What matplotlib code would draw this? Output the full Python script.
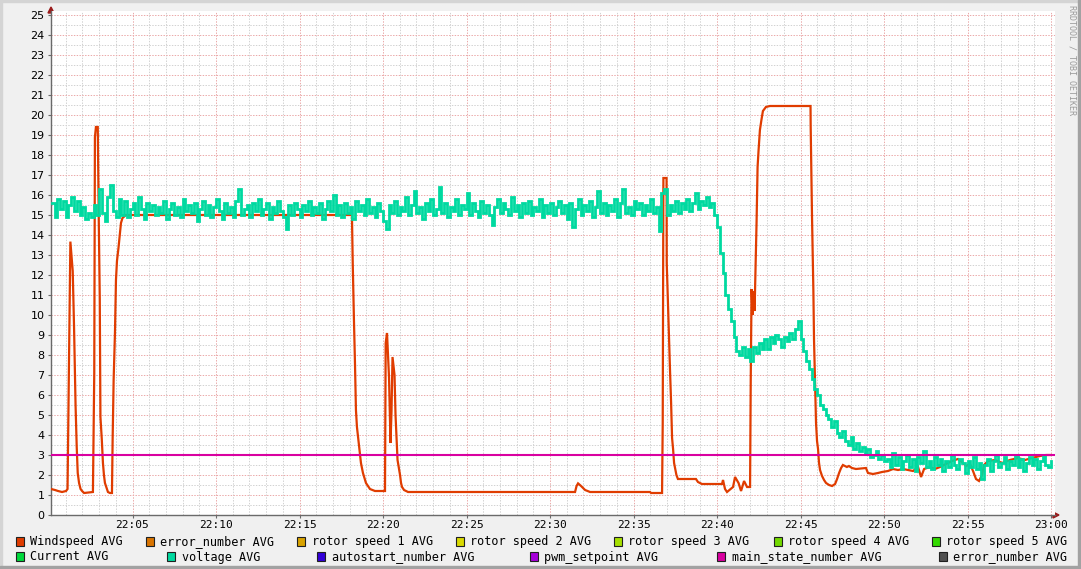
import matplotlib
matplotlib.use("Agg")
import matplotlib.pyplot as plt
from matplotlib.ticker import MultipleLocator, FuncFormatter
from matplotlib.patches import Rectangle, Polygon

# ---------------- data ----------------
# Windspeed: minutes after 22:00 and value
wind_t = [0.12, 0.36, 0.54, 0.78, 1.02, 1.11, 1.17, 1.23, 1.28, 1.42, 1.50, 1.59, 1.66, 1.72,
          1.80, 1.89, 1.98, 2.10, 2.63, 2.71, 2.75, 2.81, 2.92, 2.98, 3.04, 3.08, 3.16, 3.23,
          3.29, 3.35, 3.47, 3.53, 3.65, 3.77, 3.81, 3.87, 3.95, 4.01, 4.07, 4.16, 4.22, 4.31,
          4.40, 4.61, 18.14, 18.19, 18.26, 18.32, 18.38, 18.44, 18.56, 18.68, 18.80, 18.98,
          19.22, 19.52, 20.12, 20.16, 20.24, 20.36, 20.45, 20.51, 20.57, 20.69, 20.75, 20.81,
          20.87, 20.96, 21.02, 21.08, 21.14, 21.26, 21.50, 31.50, 31.59, 31.68, 31.86, 31.98,
          32.10, 32.40, 35.99, 36.05, 36.71, 36.75, 36.79, 36.98, 36.99, 37.10, 37.19, 37.25,
          37.31, 37.37, 37.43, 37.52, 37.57, 37.66, 38.74, 38.86, 39.10, 40.30, 40.36, 40.48,
          40.60, 40.96, 41.08, 41.29, 41.44, 41.62, 41.80, 41.98, 42.02, 42.07, 42.13, 42.19,
          42.25, 42.31, 42.37, 42.43, 42.49, 42.57, 42.66, 42.75, 42.93, 43.17, 45.60, 45.61,
          45.69, 45.77, 45.81, 45.87, 45.93, 45.99, 46.05, 46.11, 46.17, 46.29, 46.41, 46.53,
          46.71, 46.89, 47.07, 47.19, 47.31, 47.43, 47.54, 47.78, 47.90, 48.08, 48.32, 48.92,
          49.04, 49.34, 49.64, 49.88, 50.24, 50.54, 50.84, 51.14, 51.44, 51.74, 52.04, 52.22,
          52.40, 52.75, 53.05, 53.35, 53.71, 54.07, 54.43, 54.67, 54.91, 55.15, 55.33, 55.51,
          55.69, 55.87, 55.99, 56.23, 56.65, 57.07, 57.54, 58.02, 58.44, 58.86, 59.34, 59.70,
          59.94]
wind_v = [1.3, 1.25, 1.2, 1.15, 1.2, 1.3, 5.6, 10.3, 13.67, 12.2, 9.4, 5.5, 3.4, 2.1,
          1.6, 1.3, 1.2, 1.1, 1.15, 7.1, 18.9, 19.4, 19.4, 14.75, 10.8, 4.9, 3.8, 2.6,
          2.0, 1.6, 1.3, 1.15, 1.1, 1.1, 3.75, 6.75, 9.1, 11.75, 12.7, 13.35, 13.85, 14.6,
          14.85, 15.0, 15.0, 12.5, 9.75, 7.67, 5.25, 4.4, 3.5, 2.6, 2.1, 1.6,
          1.3, 1.2, 1.2, 8.6, 9.1, 6.9, 3.6, 5.2, 7.9, 7.0, 5.0, 3.9,
          2.75, 2.3, 2.0, 1.6, 1.4, 1.25, 1.15, 1.15, 1.45, 1.58, 1.45, 1.35,
          1.25, 1.15, 1.15, 1.1, 1.1, 4.6, 16.85, 16.85, 12.6, 9.5, 7.15, 5.65,
          3.85, 3.3, 2.6, 2.2, 2.0, 1.8, 1.8, 1.65, 1.55, 1.55, 1.75, 1.3,
          1.15, 1.4, 1.9, 1.6, 1.2, 1.7, 1.4, 1.4, 6.75, 11.3, 10.0, 11.2,
          10.2, 12.5, 14.67, 17.4, 18.25, 19.25, 19.75, 20.2, 20.4, 20.45, 20.45, 19.4,
          14.9, 11.25, 8.75, 6.6, 4.6, 3.7, 3.3, 2.6, 2.25, 1.95, 1.75, 1.6,
          1.5, 1.45, 1.55, 1.8, 2.1, 2.35, 2.5, 2.4, 2.45, 2.35, 2.3, 2.35,
          2.1, 2.05, 2.1, 2.15, 2.2, 2.3, 2.25, 2.3, 2.25, 2.2, 2.4, 1.9,
          2.3, 2.4, 2.3, 2.4, 2.55, 2.7, 2.8, 2.65, 2.45, 2.55, 2.2, 1.8,
          1.7, 2.0, 2.5, 2.7, 2.75, 2.6, 2.75, 2.85, 2.75, 2.85, 2.95, 3.0,
          3.0]

# voltage: one sample every 10 s from 22:00:10
volt_v = [
    15.6, 14.9, 15.8, 15.3, 15.7, 14.9, 15.5, 15.9, 15.2, 15.7,
    15.0, 15.4, 14.8, 15.1, 14.9, 15.5, 15.0, 16.3, 15.1, 14.7,
    15.9, 16.5, 15.2, 14.9, 15.8, 15.0, 15.7, 14.9, 15.3, 15.6,
    15.0, 15.9, 15.3, 14.8, 15.6, 15.2, 15.5, 15.0, 15.4, 15.1,
    15.7, 14.8, 15.3, 15.6, 15.0, 15.4, 14.9, 15.8, 15.2, 15.5,
    15.1, 15.6, 14.7, 15.3, 15.7, 15.0, 15.5, 14.9, 15.4, 15.8,
    15.2, 14.8, 15.6, 15.1, 15.4, 14.9, 15.7, 16.3, 15.0, 15.3,
    15.5, 14.9, 15.6, 15.2, 15.8, 15.0, 15.3, 15.6, 14.8, 15.4,
    15.1, 15.7, 15.2, 14.9, 14.3, 15.5, 15.0, 15.6, 15.3, 14.9,
    15.5, 15.2, 15.7, 15.0, 15.4, 15.1, 15.6, 14.8, 15.3, 15.7,
    15.2, 16.0, 15.0, 15.5, 14.9, 15.6, 15.1, 15.4, 14.8, 15.7,
    15.2, 15.5, 15.0, 15.8, 15.1, 15.4, 14.9, 15.6, 15.2, 14.7,
    14.3, 15.5, 15.1, 15.7, 15.0, 15.4, 15.2, 15.9, 15.0, 15.5,
    16.2, 15.1, 15.4, 14.8, 15.6, 15.2, 15.8, 15.0, 15.3, 16.4,
    15.1, 15.6, 14.9, 15.4, 15.2, 15.8, 15.0, 15.5, 15.3, 16.1,
    15.0, 15.6, 15.2, 14.9, 15.7, 15.1, 15.5, 15.0, 14.5, 15.4,
    15.8, 15.1, 15.6, 15.3, 15.0, 15.9, 15.2, 15.5, 14.9, 15.6,
    15.1, 15.7, 15.0, 15.4, 15.2, 15.8, 14.9, 15.5, 15.1, 15.6,
    15.0, 15.4, 15.7, 15.1, 15.5, 14.8, 15.6, 14.4, 15.3, 15.8,
    15.0, 15.5, 15.2, 15.7, 14.9, 15.4, 16.2, 15.1, 15.6, 15.0,
    15.5, 15.2, 15.8, 14.9, 15.6, 16.3, 15.1, 15.4, 15.0, 15.7,
    15.3, 15.6, 15.0, 15.5, 15.2, 15.8, 15.1, 15.4, 14.2, 16.1,
    16.3, 15.0, 15.5, 15.2, 15.7, 15.1, 15.6, 15.3, 15.8, 15.2,
    15.6, 16.1, 15.3, 15.7, 15.5, 15.9, 15.4, 15.6, 15.0, 14.4,
    13.1, 12.1, 11.0, 10.3, 9.7, 8.9, 8.2, 8.0, 8.4, 7.9,
    8.3, 7.7, 8.4, 8.1, 8.6, 8.3, 8.8, 8.3, 8.9, 8.6,
    9.0, 8.8, 8.4, 8.9, 8.7, 9.1, 8.8, 9.3, 9.7, 8.8,
    8.2, 7.7, 7.3, 6.8, 6.3, 6.0, 5.5, 5.3, 5.0, 4.8,
    4.4, 4.7, 4.1, 3.9, 4.2, 3.7, 3.5, 3.9, 3.3, 3.6,
    3.2, 3.4, 3.1, 3.3, 2.9, 3.0, 3.2, 2.8, 3.0, 2.7,
    2.8, 2.4, 3.1, 2.5, 2.9, 2.3, 2.7, 3.0, 2.4, 2.8,
    2.2, 2.9, 2.6, 3.2, 2.4, 2.7, 2.3, 2.9, 2.5, 2.8,
    2.2, 2.7, 2.4, 3.0, 2.5, 2.3, 2.8, 2.6, 2.1, 2.7,
    2.4, 2.9, 2.3, 2.6, 1.8, 2.5, 2.8, 2.2, 2.7, 3.0,
    2.4, 2.6, 2.9, 2.3, 2.7, 2.5, 3.0, 2.4, 2.8, 2.2,
    2.6, 2.9, 2.5, 2.8, 2.3, 2.7, 3.0, 2.5, 2.4, 2.7]
volt_t = [(i + 1) / 6.0 for i in range(len(volt_v))]

state_t = [0.12, 60.3]
state_v = [3.0, 3.0]

legend_labels = ["Windspeed AVG", "error_number AVG", "rotor speed 1 AVG", "rotor speed 2 AVG",
                 "rotor speed 3 AVG", "rotor speed 4 AVG", "rotor speed 5 AVG",
                 "Current AVG", "voltage AVG", "autostart_number AVG", "pwm_setpoint AVG",
                 "main_state_number AVG", "error_number AVG"]
legend_colors = ["#E03C00", "#D97400", "#D9A300", "#D9D900", "#A6E000", "#73D900", "#33D900",
                 "#00D93C", "#00D9A0", "#3300D9", "#A600D9", "#D900A0", "#505050"]

# ---------------- figure ----------------
W, H = 1081, 569
fig = plt.figure(figsize=(W / 100, H / 100), dpi=100)
fig.patch.set_facecolor("#F0F0F0")

bg = fig.add_axes([0, 0, 1, 1])
bg.set_xlim(0, W)
bg.set_ylim(H, 0)
bg.axis("off")
bg.patch.set_alpha(0)

x_left_px, x_right_px = 51, 1055
y_bot_px, y_top_px = 515, 11
ax = fig.add_axes([x_left_px / W, 1 - y_bot_px / H,
                   (x_right_px - x_left_px) / W, (y_bot_px - y_top_px) / H])
ax.set_facecolor("white")
m_per_px = 1 / 16.7
ax.set_xlim((x_left_px - 49) * m_per_px, (x_right_px - 49) * m_per_px)
ax.set_ylim(0, 25.2)

ax.xaxis.set_major_locator(MultipleLocator(5))
ax.xaxis.set_minor_locator(MultipleLocator(1))
ax.yaxis.set_major_locator(MultipleLocator(1))
ax.yaxis.set_minor_locator(MultipleLocator(0.5))

def fmt_x(m, pos):
    m = int(round(m))
    h = 22 + m // 60
    return f"{h:02d}:{m % 60:02d}"

ax.xaxis.set_major_formatter(FuncFormatter(fmt_x))
ax.yaxis.set_major_formatter(FuncFormatter(lambda v, p: f"{int(round(v))}"))

ax.grid(which="minor", color="#D2D2D2", linestyle=(0, (1.4, 1.4)), linewidth=0.72)
ax.grid(which="major", color="#EBAAAA", linestyle=(0, (1.4, 1.4)), linewidth=0.72)
ax.set_axisbelow(True)

for s in ["top", "right"]:
    ax.spines[s].set_visible(False)
ax.spines["left"].set_color("#6A6A6A")
ax.spines["bottom"].set_color("#6A6A6A")
ax.spines["left"].set_linewidth(1.0)
ax.spines["bottom"].set_linewidth(1.0)

ax.tick_params(axis="both", which="major", length=2.2, width=0.8, color="#6A6A6A")
ax.tick_params(axis="both", which="minor", length=0)
ax.tick_params(axis="y", pad=2.5, labelsize=8)
ax.tick_params(axis="x", pad=1.5, labelsize=8)
for lab in ax.get_yticklabels():
    lab.set_fontfamily("DejaVu Sans")
for lab in ax.get_xticklabels():
    lab.set_fontfamily("DejaVu Sans Mono")

# data lines
ax.plot(wind_t, wind_v, color=legend_colors[0], linewidth=1.6, solid_joinstyle="miter", zorder=3)
ax.plot(volt_t, volt_v, color=legend_colors[8], linewidth=2.0, drawstyle="steps-post",
        solid_joinstyle="miter", zorder=4)
ax.plot(state_t, state_v, color=legend_colors[11], linewidth=1.5, zorder=5)

# axis arrows
bg.add_patch(Polygon([(48, 13), (54, 13), (51, 7)], closed=True, color="#9B1C1C", zorder=10))
bg.add_patch(Polygon([(1053, 512), (1053, 518), (1059, 515)], closed=True, color="#9B1C1C", zorder=10))

# frame shading
bg.add_patch(Rectangle((0, 0), W, 2, color="#D4D4D4", zorder=1))
bg.add_patch(Rectangle((0, 0), 2, H, color="#D4D4D4", zorder=1))
bg.add_patch(Rectangle((0, H - 3), W, 3, color="#A2A2A2", zorder=1))
bg.add_patch(Rectangle((W - 3, 0), 3, H, color="#A2A2A2", zorder=1))

# watermark
bg.text(1072, 5, "RRDTOOL / TOBI OETIKER", rotation=270, ha="center", va="top",
        fontsize=6, family="DejaVu Sans Mono", color="#9A9A9A")

# legend
row1_y, row2_y = 541.5, 556.5
box_x = [15.5, 146, 297, 456, 614, 773.5, 931.5,
         15.5, 167, 317, 530, 717, 938.5]
rows = [row1_y] * 7 + [row2_y] * 6
for lbl, col, bx, ry in zip(legend_labels, legend_colors, box_x, rows):
    bg.add_patch(Rectangle((bx, ry - 4.5), 8, 9, facecolor=col, edgecolor="#202020",
                           linewidth=0.8, zorder=5))
    bg.text(bx + 14.5, ry + 0.5, lbl, ha="left", va="center", fontsize=8.5,
            family="DejaVu Sans Mono", color="black")

fig.savefig("out.png", dpi=100, facecolor=fig.get_facecolor())
